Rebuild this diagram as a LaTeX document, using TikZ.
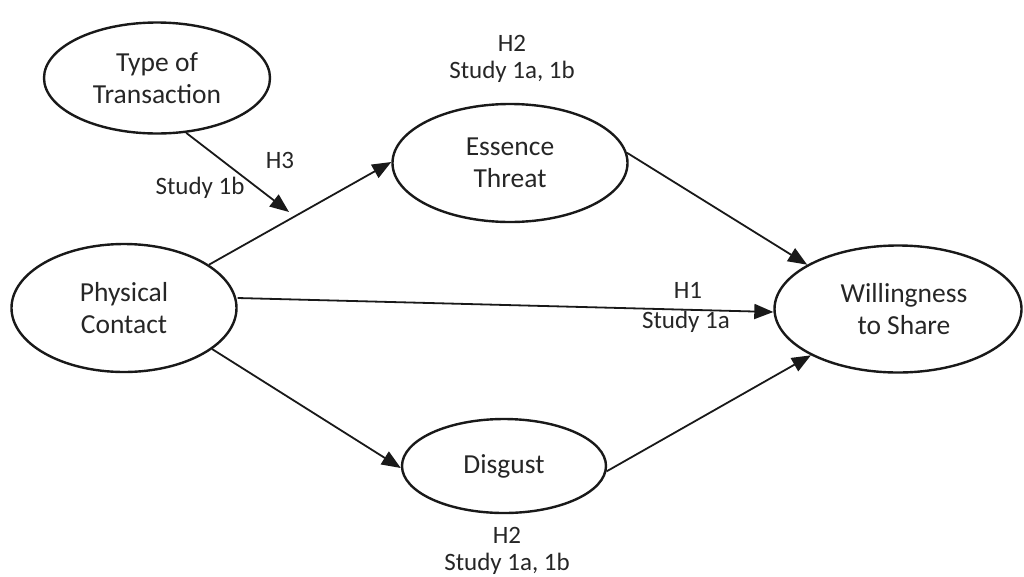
\documentclass[tikz,border=0pt]{standalone}
\usepackage{fontspec}
\setmainfont{Carlito}
\usetikzlibrary{shapes.geometric,arrows.meta}
\begin{document}
\begin{tikzpicture}[x=1pt,y=-1pt,
  construct/.style={draw=black!90,ellipse,line width=2.4pt,inner sep=0pt,align=center,text=black!85,font=\fontsize{27.5}{32}\selectfont},
  lbl/.style={align=center,text=black!85,font=\fontsize{25}{27}\selectfont,inner sep=0pt},
  link/.style={draw=black!90,line width=1.8pt,-{Triangle[length=19pt,width=15pt]}}]
\useasboundingbox (0,0) rectangle (1024,576);
\node[construct,minimum width=226pt,minimum height=111pt] (tt) at (157,78) {Type of\\Transaction};
\node[construct,minimum width=235pt,minimum height=118pt] (et) at (510,163) {Essence\\Threat};
\node[construct,minimum width=225pt,minimum height=128pt] (pc) at (124,308) {Physical\\Contact};
\node[construct,minimum width=247pt,minimum height=127pt] (ws) at (898,309) {\hspace*{12pt}Willingness\\\hspace*{12pt}to Share};
\node[construct,minimum width=204pt,minimum height=94pt] (dg) at (504,466) {Disgust};
\coordinate (mod) at (289,212);
\draw[link] (tt.-62) -- (mod);
\draw[link] (pc.27) -- (et.west|-0,162);
\draw[link] (pc.east|-0,298) -- (ws.west|-0,312);
\draw[link] (pc.-25) -- (dg.west|-0,468);
\draw[link] (et.5) -- (ws.154);
\draw[link] (dg.-3) -- (ws.-152);
\node[lbl] (l1) at (512,59) {H2\\Study 1a, 1b};
\node[lbl] (l2) at (280,160) {H3};
\node[lbl] (l3) at (200,188) {Study 1b};
\node[lbl] (l4) at (688,290) {H1};
\node[lbl] (l5) at (686,322) {Study 1a};
\node[lbl] (l6) at (507,551) {H2\\Study 1a, 1b};
\end{tikzpicture}
\end{document}
